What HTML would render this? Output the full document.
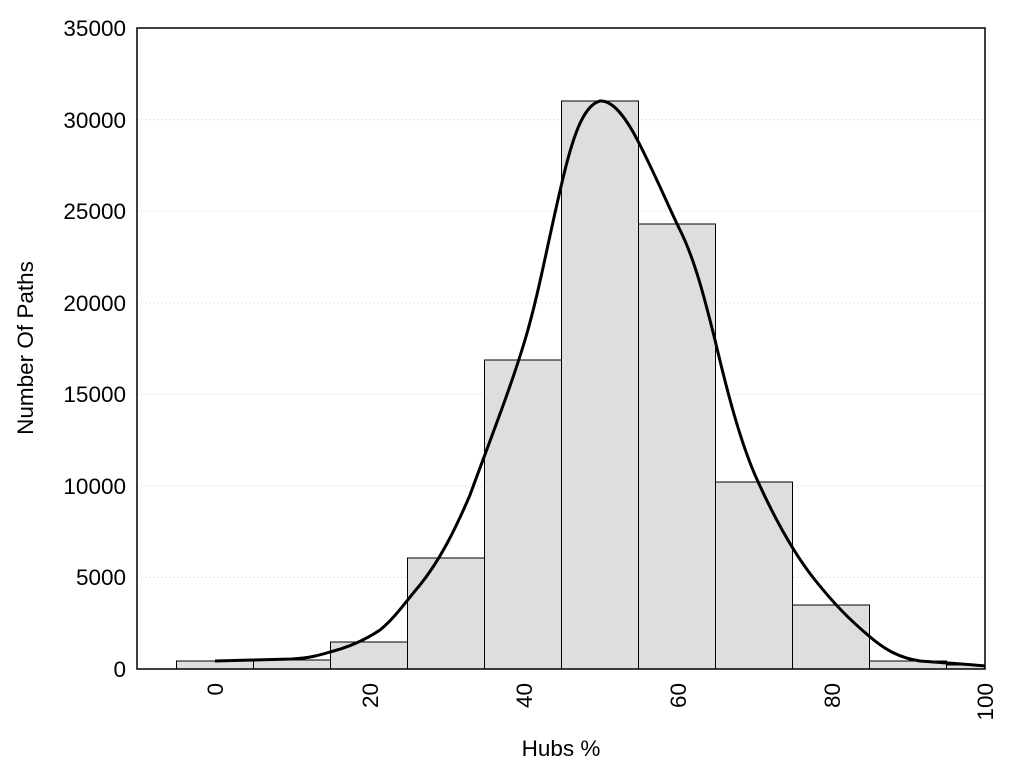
<!DOCTYPE html><html><head><style>body{margin:0;background:#fff}text{font-family:"Liberation Sans",sans-serif;font-size:22.5px;fill:#000}</style></head><body>
<svg width="1024" height="768" xmlns="http://www.w3.org/2000/svg">
<g stroke="#ccc" stroke-dasharray="1,3" stroke-width="1">
<line x1="137" x2="985" y1="577.4" y2="577.4"/><line x1="137" x2="985" y1="485.9" y2="485.9"/><line x1="137" x2="985" y1="394.3" y2="394.3"/><line x1="137" x2="985" y1="302.7" y2="302.7"/><line x1="137" x2="985" y1="211.1" y2="211.1"/><line x1="137" x2="985" y1="119.6" y2="119.6"/></g>
<g fill="#dedede" stroke="#000" stroke-width="1">
<rect x="176.5" y="661" width="77" height="8"/><rect x="253.5" y="660" width="77" height="9"/><rect x="330.5" y="642" width="77" height="27"/><rect x="407.5" y="558" width="77" height="111"/><rect x="484.5" y="360" width="77" height="309"/><rect x="561.5" y="101" width="77" height="568"/><rect x="638.5" y="224" width="77" height="445"/><rect x="715.5" y="482" width="77" height="187"/><rect x="792.5" y="605" width="77" height="64"/><rect x="869.5" y="661" width="77" height="8"/><rect x="946.5" y="665" width="38.5" height="4"/></g>
<path d="M215,661 L253,660 L292,659 C310,658 320,655 330,652 C350,647 365,640 380,630 C395,618 407,600 420,585 C440,560 455,530 470,495 C490,440 510,390 525,340 C540,290 550,230 565,170 C575,130 585,105 600,101 C612,100 625,115 640,145 C660,185 670,210 680,230 C695,260 705,300 715,340 C728,395 740,440 755,475 C775,520 795,555 815,580 C835,605 850,620 869,636 C885,650 900,658 920,661 C945,663 965,664 985,666" fill="none" stroke="#000" stroke-width="3"/>
<rect x="137" y="28" width="848" height="641" fill="none" stroke="#000" stroke-width="1.5"/>
<g text-anchor="end">
<text x="126" y="677">0</text><text x="126" y="585">5000</text><text x="126" y="494">10000</text><text x="126" y="402">15000</text><text x="126" y="311">20000</text><text x="126" y="219">25000</text><text x="126" y="128">30000</text><text x="126" y="36">35000</text></g>
<g text-anchor="end">
<text transform="translate(223,683) rotate(-90)">0</text><text transform="translate(378,683) rotate(-90)">20</text><text transform="translate(532,683) rotate(-90)">40</text><text transform="translate(686,683) rotate(-90)">60</text><text transform="translate(840,683) rotate(-90)">80</text><text transform="translate(993,683) rotate(-90)">100</text></g>
<text x="561" y="756" text-anchor="middle">Hubs %</text>
<text transform="translate(33,348) rotate(-90)" text-anchor="middle">Number Of Paths</text>
</svg></body></html>
